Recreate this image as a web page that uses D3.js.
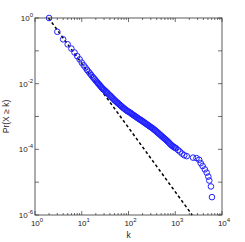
<!DOCTYPE html>
<html>
<head>
<meta charset="utf-8">
<script src="https://cdn.jsdelivr.net/npm/d3@7"></script>
<style>
  body { margin: 0; background: #fff; }
  text { font-family: "Liberation Sans", Arial, sans-serif; fill: #222; }
</style>
</head>
<body>
<div id="chart"></div>
<script>
var degree = [2, 3, 4, 5, 6, 7, 8, 9, 10, 11, 12, 13, 14, 15, 16, 17, 18, 19, 20,
    21, 22, 23, 24, 25, 26, 27, 28, 29, 30, 32, 33, 35, 36, 38, 40, 42, 44, 46, 48,
    50, 52, 55, 58, 60, 63, 66, 69, 72, 76, 79, 83, 87, 91, 95, 100, 105, 110, 115,
    120, 126, 132, 138, 145, 151, 158, 166, 174, 182, 191, 200, 209, 219, 229, 240,
    251, 263, 275, 288, 302, 316, 331, 347, 363, 380, 398, 417, 437, 457, 479, 501,
    525, 550, 575, 603, 631, 661, 692, 724, 759, 794, 832, 871, 912, 955, 1000,
    1040, 1150, 1260, 1400, 1560, 1760, 2400, 2850, 3250, 3500, 3850, 4300, 4700,
    5100, 5350, 5800, 6100];
var ccdf = [1.0, 0.38, 0.224, 0.158, 0.117, 0.089, 0.069, 0.055, 0.0437, 0.0363,
    0.0309, 0.0263, 0.0229, 0.0204, 0.0182, 0.0162, 0.0148, 0.0135, 0.0123,
    0.0114, 0.0105, 0.00977, 0.00912, 0.00851, 0.00794, 0.0075, 0.00708, 0.00676,
    0.00646, 0.00603, 0.00562, 0.00531, 0.00501, 0.00468, 0.00437, 0.00412, 0.0038,
    0.00359, 0.00339, 0.00316, 0.00302, 0.00282, 0.00263, 0.00251, 0.00237,
    0.00224, 0.00211, 0.002, 0.00188, 0.00178, 0.0017, 0.0016, 0.00153, 0.00146,
    0.0014, 0.00135, 0.00129, 0.00123, 0.00117, 0.00112, 0.00107, 0.00102,
    9.77e-4, 9.33e-4, 8.91e-4, 8.51e-4, 8.13e-4, 7.85e-4, 7.5e-4, 7.16e-4,
    6.84e-4, 6.53e-4, 6.24e-4, 5.96e-4, 5.69e-4, 5.43e-4, 5.19e-4, 4.95e-4,
    4.73e-4, 4.52e-4, 4.32e-4, 4.07e-4, 3.89e-4, 3.67e-4, 3.47e-4, 3.27e-4,
    3.09e-4, 2.92e-4, 2.75e-4, 2.6e-4, 2.45e-4, 2.32e-4, 2.19e-4, 2.07e-4,
    1.95e-4, 1.84e-4, 1.74e-4, 1.62e-4, 1.51e-4, 1.41e-4, 1.33e-4, 1.26e-4,
    1.2e-4, 1.15e-4, 1.11e-4, 1.07e-4, 9.5e-5, 8.5e-5, 7.4e-5, 6.6e-5, 6.2e-5,
    5.6e-5, 5.4e-5, 4.8e-5, 3.8e-5, 3.1e-5, 2.45e-5, 1.95e-5, 1.48e-5, 1.12e-5,
    7.4e-6, 3.5e-6];

// fitted power law shown dashed: end points
var fitK = [1.95, 2300];
var fitP = [1, 1e-6];

var xTicks = [1, 10, 100, 1000, 10000];
var yTicks = [1e-6, 1e-5, 1e-4, 1e-3, 1e-2, 1e-1, 1];
var yLabelled = [1e-6, 1e-4, 1e-2, 1];

var width = 245, height = 242;
var margin = {left: 35, right: 23, top: 18, bottom: 27};

var svg = d3.select("#chart").append("svg")
    .attr("width", width)
    .attr("height", height);

var x = d3.scaleLog().domain([1, 1e4]).range([margin.left, width - margin.right]);
var y = d3.scaleLog().domain([1e-6, 1]).range([height - margin.bottom, margin.top]);

var plot = svg.append("g");

// the dashed fit line
var fit = fitK.map(function (k, i) { return [k, fitP[i]]; });
plot.append("path")
    .datum(fit)
    .attr("d", d3.line().x(function (d) { return x(d[0]); }).y(function (d) { return y(d[1]); }))
    .attr("fill", "none")
    .attr("stroke", "#000")
    .attr("stroke-width", 1.5)
    .attr("stroke-dasharray", "3,2.5");

// the data circles
var pts = degree.map(function (k, i) { return [k, ccdf[i]]; });
plot.selectAll("circle")
    .data(pts)
    .enter().append("circle")
    .attr("cx", function (d) { return x(d[0]); })
    .attr("cy", function (d) { return y(d[1]); })
    .attr("r", 2.8)
    .attr("fill", "none")
    .attr("stroke", "#2020ff")
    .attr("stroke-width", 1);

// box
var x0 = x.range()[0], x1 = x.range()[1], y0 = y.range()[1], y1 = y.range()[0];
svg.append("rect")
    .attr("x", x0).attr("y", y0)
    .attr("width", x1 - x0).attr("height", y1 - y0)
    .attr("fill", "none")
    .attr("stroke", "#333")
    .attr("stroke-width", 0.8);

// minor ticks on x (inward, top and bottom)
var xMinor = [];
xTicks.slice(0, -1).forEach(function (t) {
    for (var m = 2; m <= 9; m++) xMinor.push(t * m);
});
var tickG = svg.append("g").attr("stroke", "#333").attr("stroke-width", 0.7);
xMinor.forEach(function (v) {
    tickG.append("line").attr("x1", x(v)).attr("x2", x(v)).attr("y1", y1).attr("y2", y1 - 2);
    tickG.append("line").attr("x1", x(v)).attr("x2", x(v)).attr("y1", y0).attr("y2", y0 + 2);
});
xTicks.forEach(function (v) {
    tickG.append("line").attr("x1", x(v)).attr("x2", x(v)).attr("y1", y1).attr("y2", y1 - 4);
    tickG.append("line").attr("x1", x(v)).attr("x2", x(v)).attr("y1", y0).attr("y2", y0 + 4);
});
yTicks.forEach(function (v) {
    tickG.append("line").attr("y1", y(v)).attr("y2", y(v)).attr("x1", x0).attr("x2", x0 + 4);
    tickG.append("line").attr("y1", y(v)).attr("y2", y(v)).attr("x1", x1).attr("x2", x1 - 4);
});

// tick labels as 10 with superscript exponent
function powerLabel(g, v, px, py, anchor) {
    var e = Math.round(Math.log10(v));
    var t = g.append("text")
        .attr("x", px).attr("y", py)
        .attr("text-anchor", anchor)
        .attr("font-size", 8);
    t.append("tspan").text("10");
    t.append("tspan").attr("dy", -4).attr("font-size", 6).text(e);
}

var labels = svg.append("g");
xTicks.forEach(function (v) {
    powerLabel(labels, v, x(v) + 2, y1 + 11, "middle");
});
yLabelled.forEach(function (v) {
    powerLabel(labels, v, x0 - 2, y(v) + 3, "end");
});

svg.append("text")
    .attr("x", (x0 + x1) / 2)
    .attr("y", height - 4)
    .attr("text-anchor", "middle")
    .attr("font-size", 8.5)
    .text("k");

svg.append("text")
    .attr("transform", "translate(9," + ((y0 + y1) / 2) + ") rotate(-90)")
    .attr("text-anchor", "middle")
    .attr("font-size", 8.5)
    .text("Pr(X \u2265 k)");
</script>
</body>
</html>
